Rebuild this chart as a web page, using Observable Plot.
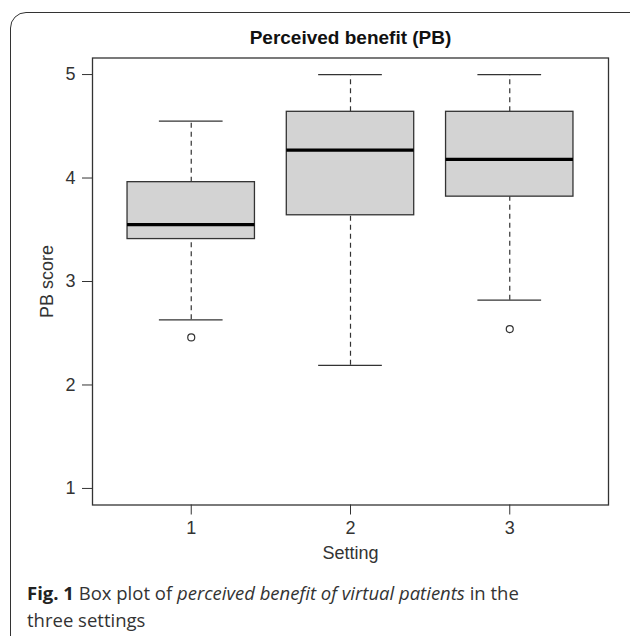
<!DOCTYPE html>
<html>
<head>
<meta charset="utf-8">
<script src="https://cdn.jsdelivr.net/npm/d3@7"></script>
<script src="https://cdn.jsdelivr.net/npm/@observablehq/plot@0.6"></script>
<style>
  html, body { margin: 0; padding: 0; background: #fff; }
  body { width: 630px; height: 636px; overflow: hidden; position: relative; }
  #card { position: absolute; left: 10px; top: 12px; width: 640px; height: 700px;
          border: 1.6px solid #333; border-radius: 16px; box-sizing: border-box; }
  #chart { position: absolute; left: 0; top: 0; }
  #caption { position: absolute; left: 27px; top: 579px; width: 595px;
             font-family: "Open Sans", sans-serif; font-size: 18.5px; line-height: 27px; color: #333; }
  #caption b { color: #222; }
</style>
</head>
<body>
<div id="card"></div>
<div id="chart"></div>
<div id="caption"><b>Fig. 1</b> Box plot of <i>perceived benefit of virtual patients</i> in the<br>three settings</div>
<script>
const settings = [1, 2, 3];
const lowerWhisker = [2.63, 2.19, 2.82];
const q1 = [3.41, 3.64, 3.82];
const median = [3.55, 4.27, 4.18];
const q3 = [3.96, 4.64, 4.64];
const upperWhisker = [4.55, 5.00, 5.00];
const outlierSetting = [1, 3];
const outlierValue = [2.46, 2.54];
const yTicks = [1, 2, 3, 4, 5];
const titleText = "Perceived benefit (PB)";
const xLabel = "Setting";
const yLabel = "PB score";

const boxes = settings.map((s, i) => ({
  s, lo: lowerWhisker[i], q1: q1[i], med: median[i], q3: q3[i], hi: upperWhisker[i]
}));
const outliers = outlierSetting.map((s, i) => ({ s, v: outlierValue[i] }));
const halfBox = 0.4, halfCap = 0.2;

const chart = Plot.plot({
  width: 630,
  height: 570,
  marginLeft: 92,
  marginRight: 22,
  marginTop: 57.5,
  marginBottom: 65.5,
  style: { fontFamily: "'Liberation Sans', Arial, sans-serif", fontSize: "18px", color: "#222", background: "transparent" },
  x: { domain: [0.38, 3.62] },
  y: { domain: [0.84, 5.16] },
  marks: [
    Plot.ruleX(boxes, { x: "s", y1: "q3", y2: "hi", stroke: "#333", strokeWidth: 1.2, strokeDasharray: "5,4" }),
    Plot.ruleX(boxes, { x: "s", y1: "lo", y2: "q1", stroke: "#333", strokeWidth: 1.2, strokeDasharray: "5,4" }),
    Plot.ruleY(boxes, { y: "hi", x1: d => d.s - halfCap, x2: d => d.s + halfCap, stroke: "#333", strokeWidth: 1.3 }),
    Plot.ruleY(boxes, { y: "lo", x1: d => d.s - halfCap, x2: d => d.s + halfCap, stroke: "#333", strokeWidth: 1.3 }),
    Plot.rect(boxes, { x1: d => d.s - halfBox, x2: d => d.s + halfBox, y1: "q1", y2: "q3", fill: "#d3d3d3", stroke: "#333", strokeWidth: 1.3 }),
    Plot.ruleY(boxes, { y: "med", x1: d => d.s - halfBox, x2: d => d.s + halfBox, stroke: "#000", strokeWidth: 3.2 }),
    Plot.dot(outliers, { x: "s", y: "v", r: 3.5, stroke: "#333", strokeWidth: 1.2, fill: "none" }),
    Plot.frame({ stroke: "#333", strokeWidth: 1.3 }),
    Plot.axisY({ ticks: yTicks, tickFormat: d3.format("d"), tickSize: 10, tickPadding: 7, fontSize: 18, stroke: "#333", fill: "#333", label: null }),
    Plot.axisX({ ticks: settings, tickFormat: d3.format("d"), tickSize: 10, tickPadding: 6, fontSize: 18, stroke: "#333", fill: "#333", label: null }),
    Plot.text([titleText], { frameAnchor: "top", text: d => d, dy: -20, lineAnchor: "middle", fontWeight: "bold", fontSize: 19, fill: "#111" }),
    Plot.text([xLabel], { frameAnchor: "bottom", text: d => d, dy: 54, fontSize: 18, fill: "#333" }),
    Plot.text([yLabel], { frameAnchor: "left", text: d => d, dx: -45, rotate: -90, textAnchor: "middle", lineAnchor: "middle", fontSize: 18, fill: "#333" })
  ]
});
document.getElementById("chart").appendChild(chart);
</script>
</body>
</html>
